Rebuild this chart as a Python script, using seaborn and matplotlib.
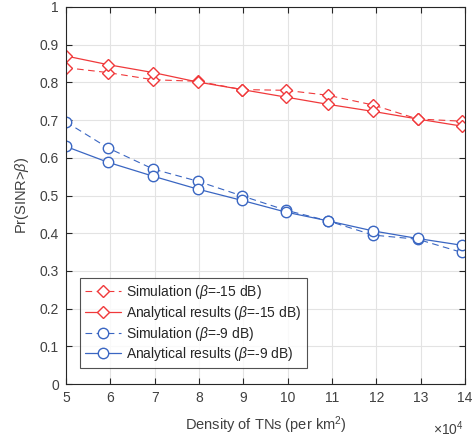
import matplotlib
matplotlib.use("Agg")
import matplotlib.pyplot as plt
import seaborn as sns
import numpy as np
import pandas as pd

# Data (density in units of 1e4 per km^2)
density = [5.0, 5.95, 6.97, 7.97, 8.97, 9.96, 10.9, 11.93, 12.93, 13.93]
sim_15 = [0.839, 0.826, 0.807, 0.803, 0.781, 0.779, 0.766, 0.740, 0.703, 0.697]
ana_15 = [0.870, 0.847, 0.826, 0.801, 0.781, 0.761, 0.742, 0.723, 0.703, 0.684]
sim_9 = [0.695, 0.626, 0.570, 0.538, 0.499, 0.461, 0.433, 0.395, 0.384, 0.349]
ana_9 = [0.630, 0.588, 0.551, 0.517, 0.487, 0.456, 0.433, 0.406, 0.386, 0.368]

labels = [r"Simulation ($\beta$=-15 dB)", r"Analytical results ($\beta$=-15 dB)",
          r"Simulation ($\beta$=-9 dB)", r"Analytical results ($\beta$=-9 dB)"]
series = [sim_15, ana_15, sim_9, ana_9]

sns.set_style("white")
plt.rcParams['font.family'] = ['Liberation Sans', 'DejaVu Sans']
plt.rcParams['mathtext.fontset'] = 'custom'
plt.rcParams['mathtext.rm'] = 'Liberation Sans'
plt.rcParams['mathtext.it'] = 'Liberation Sans:italic'

red = "#F0393B"
blue = "#3A66C2"
styles = [
    dict(color=red, linestyle=(0, (6, 4)), marker="D", lw=0.8),
    dict(color=red, linestyle="-", marker="D", lw=0.9),
    dict(color=blue, linestyle=(0, (6, 4)), marker="o", lw=0.8),
    dict(color=blue, linestyle="-", marker="o", lw=0.9),
]

fig = plt.figure(figsize=(4.73, 4.37), dpi=100)
ax = fig.add_axes([66 / 473, 1 - 384 / 437, (465 - 66) / 473, (384 - 7) / 437])

for lab, vals, st in zip(labels, series, styles):
    df = pd.DataFrame({"x": density, "y": vals})
    sns.lineplot(data=df, x="x", y="y", ax=ax, label=lab,
                 color=st["color"], linestyle=st["linestyle"], linewidth=st["lw"],
                 marker=st["marker"], markersize=7.5 if st["marker"] == "o" else 6.3,
                 markerfacecolor="white", markeredgecolor=st["color"],
                 markeredgewidth=1.0)

ax.set_xlim(5, 14)
ax.set_ylim(0, 1)
ax.set_xticks(range(5, 15))
ax.set_yticks(np.arange(0, 1.01, 0.1))
ax.set_xticklabels([str(v) for v in range(5, 15)])
ax.set_yticklabels(["0"] + [f"{v:.1f}" for v in np.arange(0.1, 0.95, 0.1)] + ["1"])

ax.grid(True, color="#E3E3E3", linewidth=0.8)
ax.set_axisbelow(True)
for s in ax.spines.values():
    s.set_color("#262626")
    s.set_linewidth(0.8)
    s.set_visible(True)
ax.tick_params(direction="in", length=4, width=0.8, color="#262626",
               labelsize=10, labelcolor="#404040", top=True, right=True,
               bottom=True, left=True, pad=5)

ax.set_xlabel(r"Density of TNs (per km$^2$)", fontsize=10.5, color="#404040", labelpad=7)
ax.set_ylabel(r"Pr(SINR>$\beta$)", fontsize=10.5, color="#404040", labelpad=6)
ax.text(0.998, -0.095, r"$\times10^4$", transform=ax.transAxes, ha="right",
        va="top", fontsize=10, color="#404040")

leg = ax.legend(loc="lower left", bbox_to_anchor=(0.035, 0.042), borderaxespad=0,
                fontsize=10, frameon=True, fancybox=False, edgecolor="#262626",
                handlelength=2.6, borderpad=0.35, labelspacing=0.2,
                handletextpad=0.4)
leg.get_frame().set_linewidth(0.8)
for t in leg.get_texts():
    t.set_color("#262626")

fig.savefig("out.png", dpi=100)
